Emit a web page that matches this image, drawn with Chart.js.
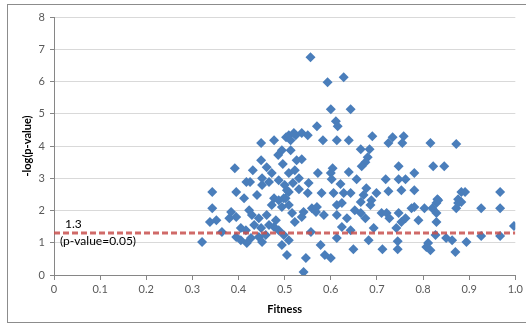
<!DOCTYPE html>
<html>
<head>
<meta charset="utf-8">
<script src="https://cdn.jsdelivr.net/npm/chart.js@4/dist/chart.umd.min.js"></script>
<style>
  html, body { margin: 0; padding: 0; background: #fff; }
  #wrap { position: relative; width: 526px; height: 326px; overflow: hidden; }
  #frame { position: absolute; left: 7px; top: 4px; width: 530px; height: 319px; border: 1px solid #8c8c8c; box-sizing: border-box; }
  canvas { position: absolute; left: 0; top: 0; }
</style>
</head>
<body>
<div id="wrap">
  <div id="frame"></div>
  <canvas id="grafico" width="526" height="326"></canvas>
</div>
<script>
// fitness (x) and -log(p-value) (y)
const fitness = [
  0.556, 0.593, 0.628, 0.600, 0.643, 0.611, 0.615, 0.570, 0.550, 0.537,
  0.524, 0.583, 0.613, 0.639, 0.690, 0.734, 0.758, 0.725, 0.755, 0.816,
  0.872, 0.665, 0.684, 0.680, 0.675, 0.667, 0.537, 0.449, 0.477, 0.494,
  0.503, 0.509, 0.513, 0.520, 0.496, 0.392, 0.572, 0.604, 0.600, 0.602,
  0.639, 0.656, 0.621, 0.719, 0.747, 0.762, 0.747, 0.822, 0.846, 0.781,
  0.781, 0.753, 0.883, 0.891, 0.967, 0.831, 0.876, 0.531, 0.509, 0.580,
  0.606, 0.628, 0.643, 0.677, 0.699, 0.725, 0.671, 0.665, 0.688, 0.417,
  0.425, 0.451, 0.451, 0.472, 0.466, 0.487, 0.500, 0.505, 0.509, 0.343,
  0.395, 0.477, 0.498, 0.343, 0.352, 0.338, 0.384, 0.380, 0.395, 0.364,
  0.423, 0.429, 0.444, 0.461, 0.472, 0.487, 0.502, 0.509, 0.481, 0.466,
  0.395, 0.405, 0.418, 0.427, 0.444, 0.451, 0.459, 0.416, 0.405, 0.321,
  0.505, 0.477, 0.487, 0.516, 0.537, 0.541, 0.559, 0.570, 0.568, 0.613,
  0.613, 0.624, 0.665, 0.675, 0.710, 0.721, 0.747, 0.557, 0.624, 0.613,
  0.649, 0.712, 0.745, 0.745, 0.546, 0.587, 0.600, 0.541, 0.753, 0.762,
  0.775, 0.803, 0.820, 0.829, 0.829, 0.829, 0.827, 0.811, 0.807, 0.863,
  0.870, 0.894, 0.876, 0.872, 0.883, 0.926, 0.926, 0.967, 0.967, 0.997,
  0.781, 0.486, 0.513, 0.526, 0.522, 0.531, 0.518, 0.494, 0.522, 0.440,
  0.412, 0.434, 0.449, 0.498, 0.509, 0.494, 0.550, 0.552, 0.585, 0.635,
  0.652, 0.686, 0.727, 0.790, 0.742, 0.449, 0.461, 0.431, 0.578, 0.643,
  0.693, 0.682, 0.816, 0.850, 0.833
];
const negLogP = [
  6.75, 5.98, 6.13, 5.14, 5.14, 4.77, 4.61, 4.61, 4.33, 4.40,
  4.33, 4.18, 4.18, 4.18, 4.30, 4.27, 4.30, 4.09, 4.09, 4.09,
  4.06, 3.90, 3.90, 3.65, 3.50, 3.37, 3.59, 4.09, 4.18, 3.87,
  4.27, 4.33, 4.18, 4.40, 3.44, 3.31, 3.16, 3.31, 3.16, 2.97,
  3.19, 2.97, 2.82, 2.97, 2.97, 2.97, 3.37, 3.37, 3.37, 3.16,
  2.63, 2.63, 2.57, 2.57, 2.57, 2.35, 2.35, 2.66, 2.57, 2.54,
  2.54, 2.54, 2.54, 2.69, 2.54, 2.60, 2.48, 2.26, 2.32, 2.88,
  2.88, 3.00, 2.79, 3.16, 2.88, 2.94, 2.79, 2.63, 3.16, 2.57,
  2.57, 2.38, 2.38, 2.07, 1.70, 1.64, 1.95, 1.76, 1.80, 1.33,
  2.01, 1.86, 1.76, 1.86, 2.17, 2.32, 2.38, 2.17, 1.70, 1.55,
  1.18, 1.08, 0.99, 1.15, 1.18, 1.02, 1.24, 1.39, 1.46, 1.02,
  0.62, 1.49, 1.39, 1.92, 1.80, 1.95, 2.07, 2.11, 1.95, 1.86,
  2.17, 2.23, 1.92, 1.76, 1.92, 1.92, 1.92, 1.33, 1.49, 1.15,
  0.80, 0.80, 1.05, 0.80, 0.53, 0.62, 0.53, 0.09, 1.64, 1.76,
  2.07, 2.07, 2.07, 2.23, 1.92, 1.64, 1.24, 0.99, 0.87, 1.08,
  0.71, 1.02, 2.23, 2.07, 2.26, 2.07, 1.21, 2.07, 1.21, 1.52,
  2.11, 3.72, 3.87, 3.56, 3.25, 3.00, 2.85, 2.11, 1.64, 2.48,
  2.38, 1.55, 1.46, 1.24, 1.08, 0.93, 2.54, 2.85, 1.86, 1.76,
  2.01, 2.17, 1.76, 1.70, 1.46, 3.56, 3.34, 3.25, 0.93, 1.39,
  1.46, 1.08, 0.77, 1.15, 2.32
];
const threshold = 1.3;
const thresholdLabel = '1.3';
const thresholdNote = '(p-value=0.05)';
const xTicks = [0, 0.1, 0.2, 0.3, 0.4, 0.5, 0.6, 0.7, 0.8, 0.9, 1];
const yTicks = [0, 1, 2, 3, 4, 5, 6, 7, 8];

const fonte = 'Lato, "Liberation Sans", sans-serif';

const pontos = fitness.map((f, i) => ({ x: f, y: negLogP[i] }));

// texto da linha de corte
const rotuloCorte = {
  id: 'rotuloCorte',
  afterDatasetsDraw(chart) {
    const ctx = chart.ctx;
    const x = chart.scales.x.getPixelForValue(0);
    const y = chart.scales.y.getPixelForValue(threshold);
    ctx.save();
    ctx.fillStyle = '#000';
    ctx.font = '12px ' + fonte;
    ctx.textBaseline = 'middle';
    ctx.textAlign = 'left';
    ctx.fillText(thresholdLabel, x + 11, y - 9);
    ctx.fillText(thresholdNote, x + 6, y + 8);
    ctx.restore();
  }
};

new Chart(document.getElementById('grafico'), {
  type: 'scatter',
  data: {
    datasets: [{
      type: 'line',
      data: [{ x: 0, y: threshold }, { x: 1, y: threshold }],
      borderColor: 'rgba(200, 80, 77, 0.85)',
      borderWidth: 3,
      borderDash: [6, 3],
      pointRadius: 0,
      order: 0
    }, {
      data: pontos,
      pointStyle: 'rectRot',
      pointRadius: 5,
      backgroundColor: '#4a7ebb',
      borderColor: '#4a7ebb',
      borderWidth: 0,
      order: 1
    }]
  },
  options: {
    responsive: false,
    animation: false,
    layout: { padding: { left: 0, right: 10, top: 17, bottom: 6 } },
    plugins: {
      legend: { display: false },
      tooltip: { enabled: false }
    },
    scales: {
      x: {
        type: 'linear',
        min: 0,
        max: 1,
        afterBuildTicks: s => { s.ticks = xTicks.map(v => ({ value: v })); },
        afterFit: s => { s.height = 45; },
        grid: {
          drawOnChartArea: false,
          drawTicks: true,
          tickLength: 5,
          color: '#868686'
        },
        border: { color: '#868686' },
        ticks: {
          color: '#595959',
          padding: 3,
          font: { size: 11, family: fonte },
          maxRotation: 0
        },
        title: {
          display: true,
          text: 'Fitness',
          color: '#000',
          padding: { top: 1 },
          font: { size: 11, weight: 'bold', family: fonte }
        }
      },
      y: {
        type: 'linear',
        min: 0,
        max: 8,
        afterBuildTicks: s => { s.ticks = yTicks.map(v => ({ value: v })); },
        afterFit: s => { s.width = 54; },
        grid: {
          color: '#d9d9d9',
          tickLength: 4,
          tickColor: '#868686'
        },
        border: { color: '#868686' },
        ticks: {
          color: '#595959',
          padding: 5,
          font: { size: 11, family: fonte }
        },
        title: {
          display: true,
          text: '-log(p-value)',
          color: '#000',
          padding: { top: 21, bottom: 0 },
          font: { size: 11, weight: 'bold', family: fonte }
        }
      }
    }
  },
  plugins: [rotuloCorte]
});
</script>
</body>
</html>
